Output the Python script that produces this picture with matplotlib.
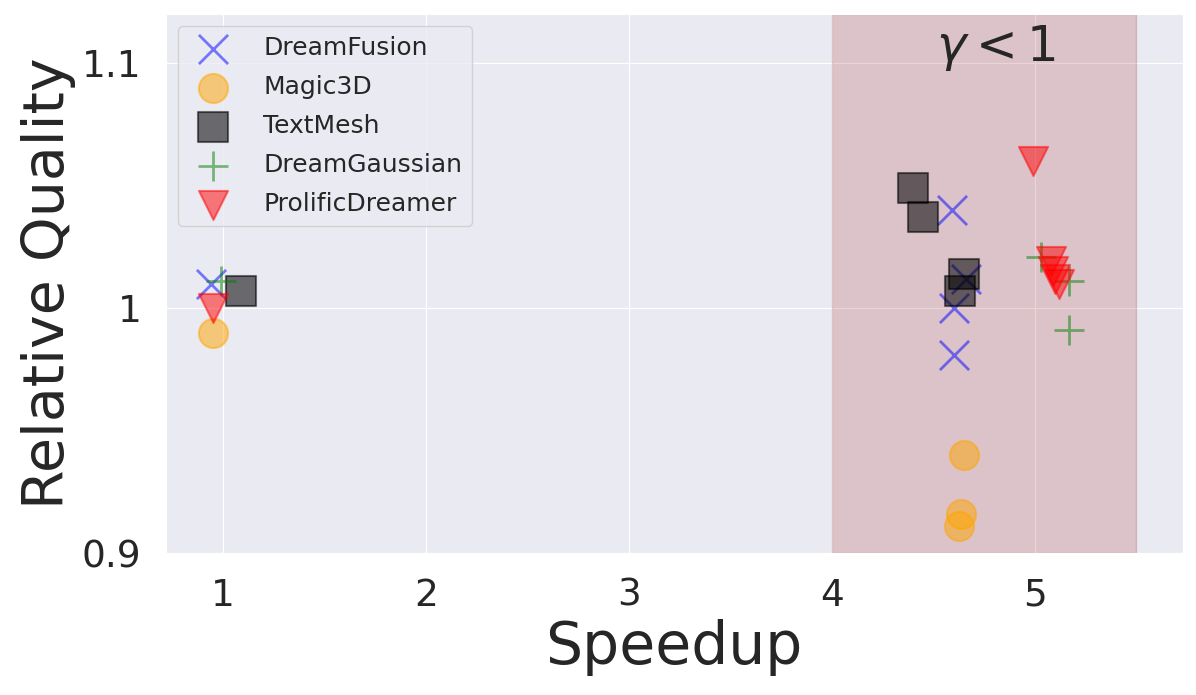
import matplotlib
matplotlib.use("Agg")
import matplotlib.pyplot as plt
import seaborn as sns

sns.set_style("darkgrid")
plt.rcParams['font.family'] = ['DejaVu Sans']

# Data
df_x = [0.94, 4.59, 4.66, 4.60, 4.60]
df_y = [1.010, 1.040, 1.012, 1.000, 0.981]
m3_x = [0.95, 4.65, 4.635, 4.627]
m3_y = [0.990, 0.940, 0.916, 0.911]
tm_x = [1.09, 4.40, 4.45, 4.65, 4.63]
tm_y = [1.007, 1.049, 1.037, 1.014, 1.007]
dg_x = [0.99, 5.03, 5.17, 5.17]
dg_y = [1.011, 1.021, 1.011, 0.991]
pd_x = [0.95, 4.99, 5.08, 5.09, 5.10, 5.12]
pd_y = [1.000, 1.060, 1.019, 1.015, 1.012, 1.010]

series = [
    ("DreamFusion", df_x, df_y, "x", "blue", 0.5),
    ("Magic3D", m3_x, m3_y, "o", "orange", 0.5),
    ("TextMesh", tm_x, tm_y, "s", "black", 0.55),
    ("DreamGaussian", dg_x, dg_y, "+", "green", 0.5),
    ("ProlificDreamer", pd_x, pd_y, "v", "red", 0.5),
]

yticks = [0.9, 1.0, 1.1]
ytick_labels = ["0.9", "1", "1.1"]
xticks = [1, 2, 3, 4, 5]
xtick_labels = ["1", "2", "3", "4", "5"]

fig = plt.figure(figsize=(11.96, 6.95), dpi=100)
ax = fig.add_axes([0.1385, 0.204, 0.8504, 0.776])

ax.axvspan(4, 5.5, color="brown", alpha=0.2)

for name, xs, ys, mk, col, a in series:
    ax.scatter(xs, ys, marker=mk, s=440, color=col, alpha=a, label=name,
               linewidths=2 if mk in ("x", "+") else 1.5)

ax.text(4.81, 1.106, r"$\gamma < 1$", fontsize=36, ha="center", va="center",
        color="#262626")

ax.set_xlim(0.718, 5.729)
ax.set_ylim(0.9, 1.12)
ax.set_xticks(xticks)
ax.set_xticklabels(xtick_labels)
ax.set_yticks(yticks)
ax.set_yticklabels(ytick_labels)
ax.tick_params(labelsize=27, colors="#262626", pad=14)
ax.set_xlabel("Speedup", fontsize=42, color="#262626", labelpad=4)
ax.set_ylabel("Relative Quality", fontsize=41, color="#262626", labelpad=4)

leg = ax.legend(loc="upper left", fontsize=18, frameon=True, markerscale=1.0,
                borderpad=0.4, labelspacing=0.6, handletextpad=1.0)

fig.savefig("out.png", dpi=100)
